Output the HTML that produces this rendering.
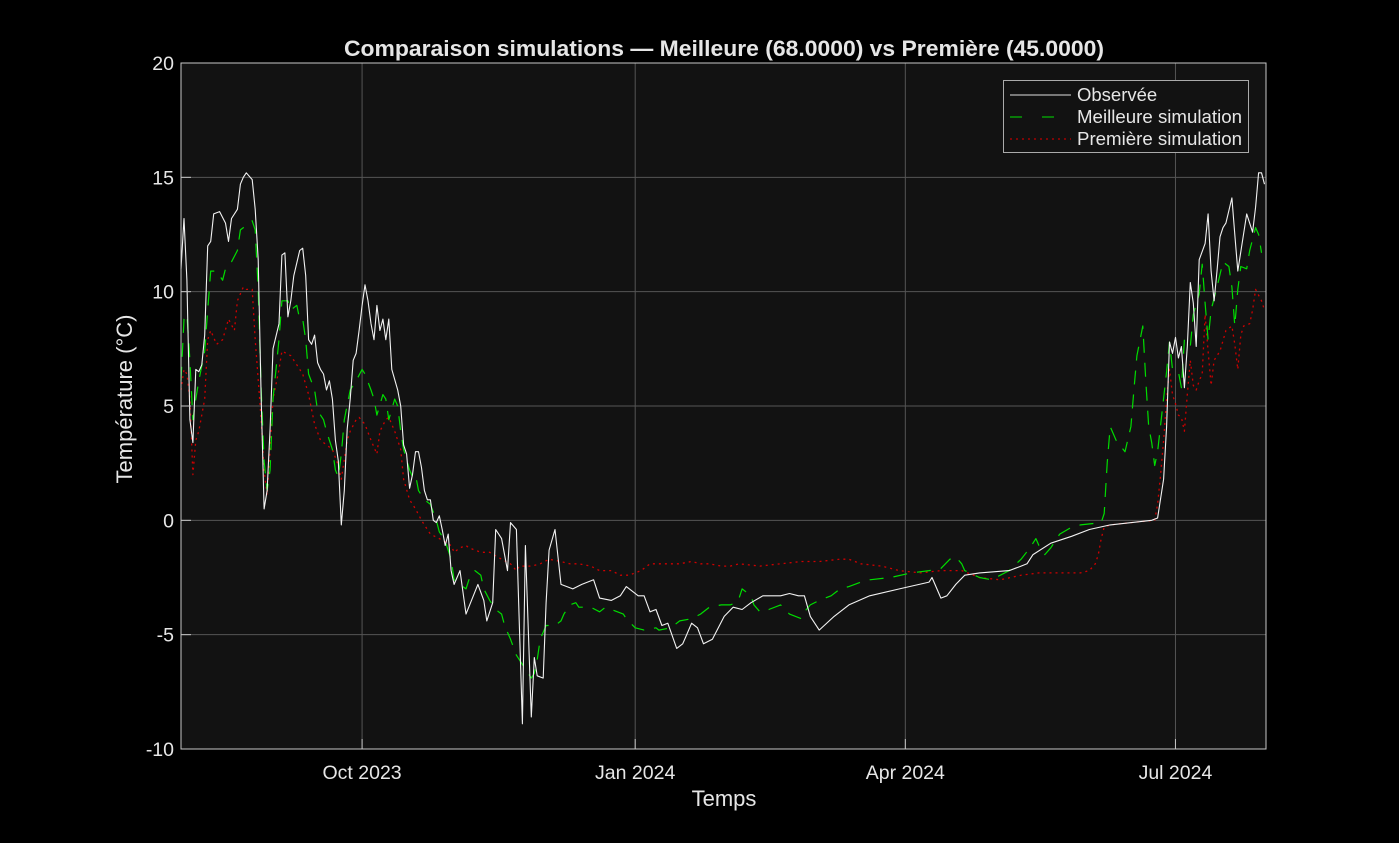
<!DOCTYPE html>
<html><head><meta charset="utf-8"><style>
html,body{margin:0;padding:0;background:#000;width:1399px;height:843px;overflow:hidden}
svg{display:block;font-family:"Liberation Sans",Arial,sans-serif}
</style></head><body>
<svg id="chart" width="1399" height="843" viewBox="0 0 1399 843">
<rect x="0" y="0" width="1399" height="843" fill="#000"/>
<rect x="181" y="63" width="1085" height="686" fill="#121212"/>
<g id="grid"></g>
<g id="series"></g>
<rect x="181" y="63" width="1085" height="686" fill="none" stroke="#c8c8c8" stroke-width="1"/>
<g id="ticks"></g>
<text x="724" y="56" text-anchor="middle" fill="#e6e6e6" font-size="22" font-weight="bold" textLength="760" lengthAdjust="spacingAndGlyphs">Comparaison simulations — Meilleure (68.0000) vs Première (45.0000)</text>
<text x="724" y="806" text-anchor="middle" fill="#e6e6e6" font-size="22">Temps</text>
<text transform="translate(132,399) rotate(-90)" text-anchor="middle" fill="#e6e6e6" font-size="22">Température (°C)</text>
<g>
<rect x="1003.5" y="80.5" width="245" height="72" fill="#121212" stroke="#aaa" stroke-width="1"/>
<line x1="1010" y1="95" x2="1071" y2="95" stroke="#ddd" stroke-width="1"/>
<text x="1077" y="101" fill="#e6e6e6" font-size="18.5">Observée</text>
<line x1="1010" y1="117" x2="1071" y2="117" stroke="#00e000" stroke-width="1" stroke-dasharray="12,20"/>
<text x="1077" y="123" fill="#e6e6e6" font-size="18.5" textLength="165" lengthAdjust="spacingAndGlyphs">Meilleure simulation</text>
<line x1="1010" y1="139" x2="1071" y2="139" stroke="#c00000" stroke-width="1.2" stroke-dasharray="2,4"/>
<text x="1077" y="145" fill="#e6e6e6" font-size="18.5" textLength="165" lengthAdjust="spacingAndGlyphs">Première simulation</text>
</g>
</svg>
<script>
const yTicks = [-10, -5, 0, 5, 10, 15, 20];
const xTickDays = [61, 153, 244, 335];
const xTickLabels = ["Oct 2023", "Jan 2024", "Apr 2024", "Jul 2024"];
const obsDays = [0,1,2,3,4,5,6,7,8,9,10,11,13,15,16,17,19,20,21,22,24,25,26,27,28,29,30,31,33,34,35,36,37,38,40,41,42,43,44,45,46,47,48,49,50,51,52,53,54,55,56,57,58,59,60,61,62,63,64,65,66,67,68,69,70,71,73,74,75,76,77,78,79,80,81,82,83,84,85,86,87,88,89,90,91,92,94,96,100,102,103,105,106,108,110,111,113,115,116,118,119,120,122,123,124,126,128,130,132,135,139,141,145,148,150,154,156,158,160,162,164,167,169,170,172,174,176,179,183,186,189,192,196,198,202,205,208,210,212,215,220,225,232,242,252,253,256,258,261,264,269,279,283,285,287,293,300,306,313,327,329,331,332,333,334,335,336,337,338,339,340,341,342,343,345,346,347,348,349,350,351,352,354,355,356,359,361,362,363,364,365];
const obsVals = [11.0,13.2,10.5,4.4,3.4,6.6,6.5,6.8,8.1,12.0,12.2,13.4,13.5,13.0,12.2,13.2,13.6,14.7,15.0,15.2,14.9,13.6,11.4,5.3,0.5,1.3,4.0,7.5,8.6,11.6,11.7,8.9,9.6,10.7,11.8,11.9,10.7,7.9,7.7,8.1,6.9,6.6,6.4,5.7,6.1,5.3,3.5,2.6,-0.2,1.3,4.0,5.3,7.0,7.3,8.3,9.4,10.3,9.6,8.6,7.9,9.4,8.3,8.8,7.9,8.8,6.6,5.7,5.0,3.3,2.9,1.4,2.0,3.0,3.0,2.3,1.3,0.9,0.9,0.0,-0.1,0.2,-0.4,-1.1,-0.6,-2.2,-2.8,-2.2,-4.1,-2.8,-3.5,-4.4,-3.6,-0.4,-0.8,-2.2,-0.1,-0.4,-8.9,-1.1,-8.6,-6.0,-6.8,-6.9,-3.6,-1.3,-0.4,-2.8,-2.9,-3.0,-2.8,-2.6,-3.4,-3.5,-3.3,-2.9,-3.3,-3.3,-4.0,-3.9,-4.6,-4.5,-5.6,-5.4,-5.1,-4.5,-4.7,-5.4,-5.2,-4.2,-3.8,-3.9,-3.6,-3.3,-3.3,-3.3,-3.2,-3.3,-3.3,-4.2,-4.8,-4.2,-3.7,-3.3,-3.0,-2.7,-2.5,-3.4,-3.3,-2.8,-2.4,-2.3,-2.2,-2.0,-1.9,-1.5,-1.0,-0.7,-0.4,-0.2,0.0,0.1,1.8,4.1,7.8,7.3,8.0,7.1,7.6,5.8,7.6,10.4,9.5,7.6,11.4,12.1,13.4,10.9,9.6,10.9,12.4,12.8,13.0,14.1,12.5,10.9,13.4,12.6,13.7,15.2,15.2,14.7,14.8];
const bestDays = [0,1,2,3,4,5,6,8,9,10,12,14,15,17,19,20,22,24,25,26,27,28,29,30,31,33,34,36,37,39,40,41,42,43,45,46,48,49,50,51,52,53,54,55,57,59,61,62,64,65,66,68,69,70,72,73,74,75,77,78,79,80,82,84,86,87,89,91,92,94,96,97,99,101,102,104,106,108,109,111,113,114,116,118,119,120,121,123,126,128,129,131,133,134,138,141,143,145,147,149,150,153,156,160,161,165,168,172,175,178,182,185,187,188,189,192,193,195,198,202,205,209,210,212,215,219,222,225,229,232,239,246,252,256,259,261,263,264,269,273,276,279,283,286,288,289,291,293,296,300,303,310,311,312,313,315,318,320,321,322,324,325,326,327,328,329,332,333,334,336,337,338,340,341,343,344,345,346,347,349,351,353,354,355,356,357,359,360,362,363,364];
const bestVals = [6.1,8.8,9.0,7.0,4.4,5.3,6.1,7.4,9.2,10.9,10.9,10.5,11.0,11.3,11.8,12.7,12.9,13.1,12.7,10.1,5.7,2.6,1.3,2.2,5.3,7.9,9.6,9.6,9.2,9.4,8.8,8.8,7.9,6.4,5.7,4.8,4.4,3.9,3.5,3.1,2.2,1.9,2.9,4.4,5.7,6.1,6.6,6.4,5.7,5.3,4.6,5.5,5.3,4.4,5.3,5.0,3.9,3.1,2.2,1.9,2.0,1.3,0.9,0.7,0.0,-0.5,-0.9,-1.7,-2.6,-2.8,-3.0,-2.6,-2.2,-2.4,-3.0,-3.5,-3.9,-4.1,-4.6,-5.2,-5.9,-6.1,-6.5,-6.9,-6.7,-6.1,-5.2,-4.6,-4.6,-4.4,-4.1,-3.7,-3.6,-3.8,-3.8,-4.0,-3.8,-3.9,-4.0,-4.1,-4.3,-4.7,-4.8,-4.7,-4.8,-4.7,-4.4,-4.3,-4.1,-3.8,-3.7,-3.7,-3.6,-3.4,-3.0,-3.3,-3.7,-4.0,-3.9,-3.7,-4.1,-4.3,-4.0,-3.7,-3.5,-3.3,-3.0,-2.9,-2.7,-2.6,-2.5,-2.3,-2.2,-2.1,-1.7,-1.6,-1.9,-2.2,-2.5,-2.6,-2.4,-2.2,-1.7,-1.2,-0.8,-1.1,-1.5,-1.2,-0.6,-0.3,-0.2,-0.1,0.3,2.5,4.1,3.5,3.0,4.1,5.7,7.2,8.5,6.1,4.1,3.4,2.4,3.0,6.5,7.8,6.6,6.5,5.8,7.9,7.6,9.0,9.9,11.2,9.5,7.9,9.2,10.2,11.3,11.1,10.2,8.5,10.1,11.1,11.0,11.8,12.8,12.5,11.7];
const firstDays = [0,1,2,3,4,5,6,8,9,10,12,14,16,18,19,21,22,24,25,27,28,29,30,31,33,34,37,39,41,43,45,47,49,51,53,54,56,57,59,60,62,64,66,67,69,70,72,74,75,77,79,81,82,84,87,91,92,94,96,97,101,104,108,111,113,114,118,121,124,128,131,134,138,141,145,148,151,155,158,161,165,168,172,175,178,182,185,188,195,202,209,215,222,225,229,236,242,249,256,263,269,276,283,289,303,306,308,309,310,311,313,320,328,329,330,331,332,333,334,335,336,337,338,339,340,341,342,343,344,345,346,347,348,350,352,354,355,356,357,358,360,361,362,364,365];
const firstVals = [5.7,6.6,6.4,5.3,2.0,3.5,3.9,5.3,7.9,8.3,7.7,7.9,8.8,8.3,9.6,10.2,10.1,10.1,7.9,4.4,2.2,1.1,3.1,5.3,6.6,7.4,7.2,6.8,6.4,5.5,4.2,3.5,3.3,3.1,2.4,1.8,3.5,3.9,4.4,4.5,4.2,3.5,2.9,3.9,4.4,4.5,3.9,3.1,1.8,0.9,0.5,0.0,-0.2,-0.6,-0.8,-1.1,-1.4,-1.2,-1.1,-1.2,-1.4,-1.4,-1.7,-1.9,-2.2,-2.0,-2.0,-1.9,-1.7,-1.8,-1.9,-1.9,-2.0,-2.2,-2.2,-2.4,-2.4,-2.2,-1.9,-1.9,-1.9,-1.9,-1.8,-1.9,-1.9,-2.0,-2.0,-1.9,-2.0,-1.9,-1.8,-1.8,-1.7,-1.7,-1.9,-2.0,-2.2,-2.3,-2.2,-2.2,-2.5,-2.6,-2.4,-2.3,-2.3,-2.2,-1.9,-1.5,-0.8,-0.3,-0.2,-0.1,0.0,0.7,2.0,3.5,5.3,6.6,5.5,5.1,4.6,4.5,3.9,5.5,7.0,5.9,5.7,6.1,6.4,9.0,7.4,5.9,7.0,7.4,8.3,8.5,7.7,6.6,8.1,8.5,8.6,9.2,10.1,9.6,9.2];

const NS = "http://www.w3.org/2000/svg";
const X0 = 181, X1 = 1266, Y0 = 749, Y1 = 63;
const DAYMAX = 365.5, YMIN = -10, YMAX = 20;
function xs(d){ return X0 + d * (X1 - X0) / DAYMAX; }
function ys(v){ return Y0 - (v - YMIN) * (Y0 - Y1) / (YMAX - YMIN); }
function mk(tag, attrs, parent){ const e = document.createElementNS(NS, tag); for (const k in attrs) e.setAttribute(k, attrs[k]); parent.appendChild(e); return e; }

const grid = document.getElementById("grid");
const ticks = document.getElementById("ticks");
yTicks.forEach(v => {
  const y = ys(v);
  if (v > YMIN && v < YMAX) {
    const g = mk("line", {x1: X0, x2: X1, y1: y, y2: y, stroke: "#555", "stroke-width": 1}, grid);
    
    
  }
  const t = mk("line", {x1: X0, x2: X0 + 10, y1: y, y2: y, stroke: "#c8c8c8", "stroke-width": 1}, ticks);
  
  
  const lb = mk("text", {x: 174, y: y + 7, "text-anchor": "end", fill: "#e6e6e6", "font-size": 19.5}, ticks);
  lb.textContent = String(v);
  
  
});
xTickDays.forEach((d, i) => {
  const x = xs(d);
  const g = mk("line", {x1: x, x2: x, y1: Y1, y2: Y0, stroke: "#555", "stroke-width": 1}, grid);
  
  
  const t = mk("line", {x1: x, x2: x, y1: Y0, y2: Y0 - 10, stroke: "#c8c8c8", "stroke-width": 1}, ticks);
  
  
  const lb = mk("text", {x: x, y: 779, "text-anchor": "middle", fill: "#e6e6e6", "font-size": 19.5}, ticks);
  lb.textContent = xTickLabels[i];
  
  
});

const seriesG = document.getElementById("series");
function drawSeries(days, vals, style, name){
  const pts = days.map((d, i) => xs(d).toFixed(1) + "," + ys(vals[i]).toFixed(1)).join(" ");
  const p = mk("polyline", Object.assign({points: pts, fill: "none", "stroke-linejoin": "round"}, style), seriesG);
  
  
}
drawSeries(firstDays, firstVals, {stroke: "#d00000", "stroke-width": 1.3, "stroke-dasharray": "2,4"}, 'first-simulation-line');
drawSeries(bestDays, bestVals, {stroke: "#00dd00", "stroke-width": 1.2, "stroke-dasharray": "14,10"}, 'best-simulation-line');
drawSeries(obsDays, obsVals, {stroke: "#f2f2f2", "stroke-width": 1.1}, 'observed-line');
</script>
</body></html>
